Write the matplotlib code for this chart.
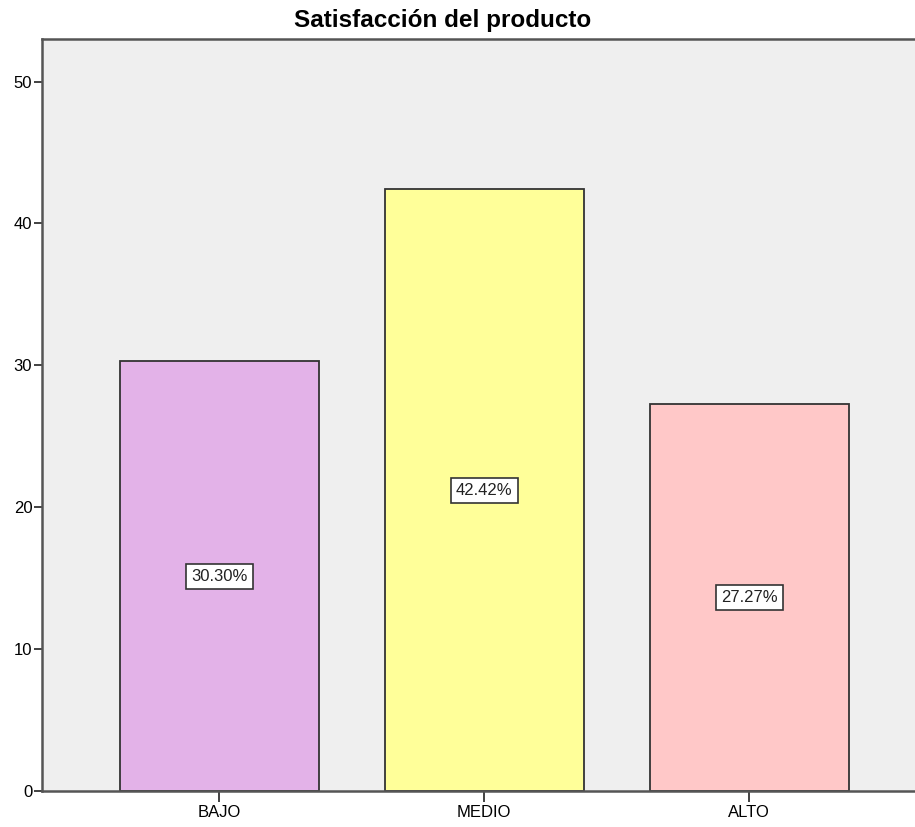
import matplotlib
matplotlib.use('Agg')
from matplotlib import pyplot as plt

categories = ['BAJO', 'MEDIO', 'ALTO']
percentages = [30.30, 42.42, 27.27]
bar_colors = ['#E3B2E8', '#FFFF99', '#FFC8C8']
y_ticks = [0, 10, 20, 30, 40, 50]

plt.rcParams['font.family'] = ['Liberation Sans', 'DejaVu Sans']


def plot_bars():
    fig = plt.figure(figsize=(9.15, 8.27), dpi=100)
    ax = fig.add_axes([42 / 915, 36 / 827, 1 - 42 / 915, 752 / 827])
    ax.set_facecolor('#EFEFEF')

    x = list(range(len(categories)))
    ax.bar(x, percentages, width=0.75, color=bar_colors,
           edgecolor='#333333', linewidth=1.3, zorder=2)

    for xi, val in zip(x, percentages):
        ax.text(xi, val / 2, f'{val:.2f}%', ha='center', va='center',
                fontsize=12, color='#222222', zorder=3,
                bbox=dict(boxstyle='square,pad=0.3', facecolor='white',
                          edgecolor='#333333', linewidth=1.2))

    ax.set_xlim(-0.67, 2.626)
    ax.set_ylim(0, 53)
    ax.set_xticks(x)
    ax.set_xticklabels(categories)
    ax.set_yticks(y_ticks)

    for side in ['left', 'bottom', 'top']:
        ax.spines[side].set_color('#555555')
        ax.spines[side].set_linewidth(1.8)
    ax.spines['right'].set_visible(False)

    ax.tick_params(axis='x', length=8, width=1.3, color='#333333',
                   labelsize=12, pad=2)
    ax.tick_params(axis='y', length=6, width=1.3, color='#333333',
                   labelsize=12, pad=1)

    fig.text(443 / 915, 1 - 21 / 827, 'Satisfacción del producto',
             ha='center', va='center', fontsize=17.5, fontweight='bold')


def main():
    plot_bars()
    plt.savefig('out.png')


main()
